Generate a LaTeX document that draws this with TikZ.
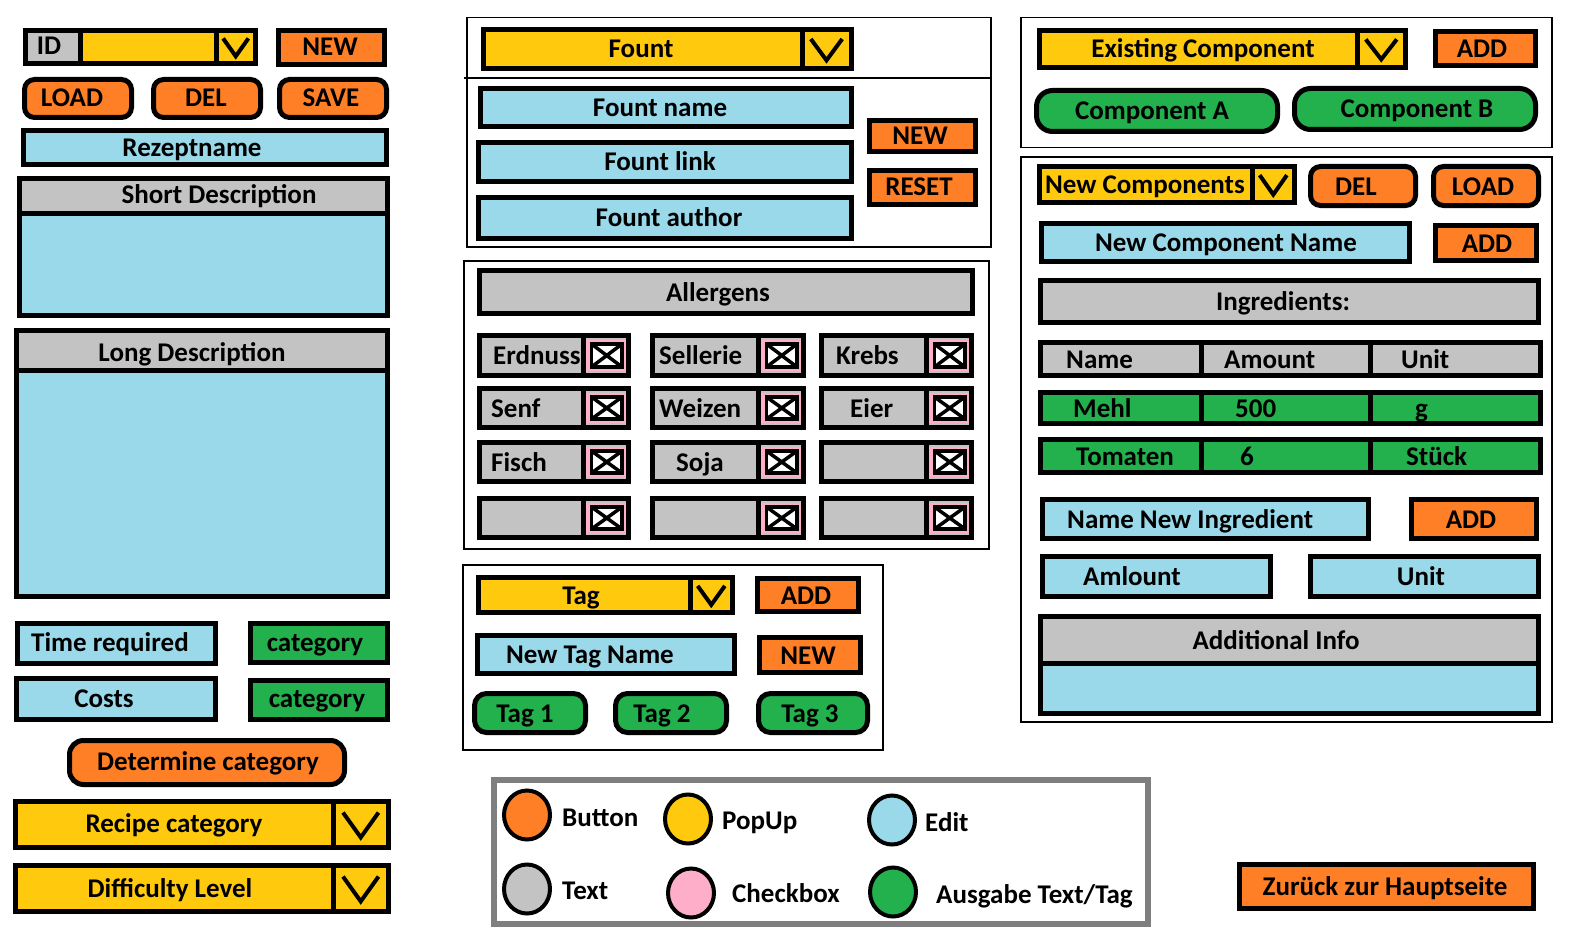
\documentclass[tikz,border=0pt]{standalone}
\usepackage{fontspec}
\setmainfont{Carlito}
\definecolor{uiorange}{HTML}{FF7F27}
\definecolor{uiyellow}{HTML}{FFC90E}
\definecolor{uiblue}{HTML}{99D9EA}
\definecolor{uigray}{HTML}{C3C3C3}
\definecolor{uigreen}{HTML}{22B14C}
\definecolor{uipink}{HTML}{FFAEC9}
\definecolor{uiframe}{HTML}{7F7F7F}
\newcommand\uicombo[5]{%
  \draw[popup] (#1,#2) rectangle (#3,#4);
  \draw[thickbox] (#5,#2) -- (#5,#4);
  \draw[vmark] ({#5+0.18*(#3-#5)},{#2+0.24*(#4-#2)}) -- ({(#5+#3)/2},{#4-0.22*(#4-#2)}) -- ({#3-0.18*(#3-#5)},{#2+0.24*(#4-#2)});}
\newcommand\uicheck[4]{%
  \draw[txt] (#1,#2) rectangle (#3,#4);
  \draw[thickbox] ({#3-45},#2) -- ({#3-45},#4);
  \fill[uipink] ({#3-42.5},{#2+4.5}) rectangle ({#3-2.5},{#4-4.5});
  \draw[line width=3.5pt,fill=white] ({#3-37},{#2+8.5}) rectangle ({#3-6.5},{#4-8.5});
  \draw[line width=3.5pt] ({#3-37},{#2+8.5}) -- ({#3-6.5},{#4-8.5}) ({#3-37},{#4-8.5}) -- ({#3-6.5},{#2+8.5});}
\begin{document}
\begin{tikzpicture}[x=1pt,y=-1pt,
  thickbox/.style={draw=black,line width=5pt},
  btnsq/.style={thickbox,fill=uiorange},
  btnrd/.style={thickbox,fill=uiorange,rounded corners=10pt},
  popup/.style={thickbox,fill=uiyellow},
  edit/.style={thickbox,fill=uiblue},
  txt/.style={thickbox,fill=uigray},
  outp/.style={thickbox,fill=uigreen},
  outrd/.style={thickbox,fill=uigreen,rounded corners=12pt},
  panel/.style={draw=black,line width=1.5pt},
  vmark/.style={draw=black,line width=4pt},
  legdot/.style={draw=black,line width=4pt},
  lbl/.style={font=\bfseries\fontsize{27}{31}\selectfont,inner sep=0pt,text=black,anchor=base},
  lblw/.style={lbl,anchor=base west},
]
\useasboundingbox[fill=white] (0,0) rectangle (1578,944);

% ---------------- left column
\uicombo{25.5}{30.5}{255.5}{63.5}{216}
\draw[txt] (25.5,30.5) rectangle (80,63.5);
\node[lbl] (tid) at (49,55) {ID};
\draw[btnsq] (278.5,30.5) rectangle (384.5,64.5);
\node[lbl] (tnewa) at (330,56) {NEW};
\draw[btnrd] (24.5,79.5) rectangle (131.5,117.5);
\node[lbl] (tloada) at (72,107) {LOAD};
\draw[btnrd] (153.5,79.5) rectangle (260.5,117.5);
\node[lbl] (tdela) at (206,107) {DEL};
\draw[btnrd] (279.5,79.5) rectangle (386.5,117.5);
\node[lbl] (tsave) at (331,107) {SAVE};
\draw[edit] (23.5,130.5) rectangle (386.5,164.5);
\node[lbl] (trez) at (192,157) {Rezeptname};
\draw[edit] (19.5,178.5) rectangle (387.5,315.5);
\draw[txt] (19.5,178.5) rectangle (387.5,213);
\node[lbl] (tshort) at (219,204) {Short Description};
\draw[edit] (16.5,330.5) rectangle (387.5,596.5);
\draw[txt] (16.5,330.5) rectangle (387.5,370);
\node[lbl] (tlong) at (192,361) {Long Description};
\draw[edit] (17.5,623.5) rectangle (215.5,663.5);
\node[lbl] (ttime) at (110,651) {Time required};
\draw[outp] (250.5,623.5) rectangle (387.5,662.5);
\node[lbl] (tcata) at (315,651) {category};
\draw[edit] (16.5,678.5) rectangle (215.5,719.5);
\node[lbl] (tcost) at (104,707) {Costs};
\draw[outp] (250.5,680.5) rectangle (387.5,719.5);
\node[lbl] (tcatb) at (317,707) {category};
\draw[btnrd,rounded corners=14pt] (69.5,740.5) rectangle (344.5,784.5);
\node[lbl] (tdet) at (208,770) {Determine category};
\uicombo{15.5}{801.5}{388.5}{847.5}{333}
\node[lbl] (trec) at (174,832) {Recipe category};
\uicombo{15.5}{865.5}{388.5}{911.5}{333}
\node[lbl] (tdiff) at (170,897) {Difficulty Level};

% ---------------- middle column
\draw[panel] (467,17.5) rectangle (991,247);
\draw[panel] (464,78) -- (991,78);
\uicombo{483}{29.5}{851}{69}{802}
\node[lbl] (tfount) at (641,58) {Fount};
\draw[edit] (480.5,88.5) rectangle (851,127);
\node[lbl] (tfname) at (660,116.5) {Fount name};
\draw[edit] (478.5,142.5) rectangle (851,182);
\node[lbl] (tflink) at (660,171) {Fount link};
\draw[edit] (478.5,197.5) rectangle (851,238);
\node[lbl] (tfauth) at (669,226.5) {Fount author};
\draw[btnsq] (869.5,120.5) rectangle (975,151.5);
\node[lbl] (tnewb) at (920,144.5) {NEW};
\draw[btnsq] (869.5,170.5) rectangle (975,204.5);
\node[lbl] (treset) at (919,196) {RESET};

\draw[panel] (464,261) rectangle (989,549);
\draw[txt] (479.5,270.5) rectangle (972.5,313.5);
\node[lbl] (tallerg) at (718,301) {Allergens};
\foreach \ya/\yb in {335.5/375.5,388.5/427.5,442.5/481.5,498.5/537.5}{
  \foreach \xa/\xb in {479.5/628.5,652.5/803.5,821.5/971.5}{
    \uicheck{\xa}{\ya}{\xb}{\yb}}}
\node[lblw] (terd) at (493,364.5) {Erdnuss};
\node[lblw] (tsel) at (659,364.5) {Sellerie};
\node[lblw] (tkreb) at (836,364.5) {Krebs};
\node[lblw] (tsenf) at (491,417) {Senf};
\node[lblw] (tweiz) at (659,417) {Weizen};
\node[lblw] (teier) at (850,417) {Eier};
\node[lblw] (tfisch) at (491,471) {Fisch};
\node[lblw] (tsoja) at (676,471) {Soja};

\draw[panel] (463,565) rectangle (883,750);
\uicombo{478.5}{577.5}{732.5}{612.5}{690}
\node[lbl] (ttag) at (581,604) {Tag};
\draw[btnsq] (757.5,578.5) rectangle (858.5,611.5);
\node[lbl] (taddt) at (806,604) {ADD};
\draw[edit] (477.5,635.5) rectangle (734.5,673.5);
\node[lbl] (tntag) at (590,663.5) {New Tag Name};
\draw[btnsq] (759.5,637.5) rectangle (860.5,672.5);
\node[lbl] (tnewc) at (808,664) {NEW};
\draw[outrd] (474.5,693.5) rectangle (585.5,732.5);
\node[lbl] (ttaga) at (525,722) {Tag 1};
\draw[outrd] (615.5,693.5) rectangle (726.5,732.5);
\node[lbl] (ttagb) at (662,722) {Tag 2};
\draw[outrd] (758.5,693.5) rectangle (867.5,732.5);
\node[lbl] (ttagc) at (810,722) {Tag 3};

% ---------------- legend
\draw[draw=uiframe,line width=6pt] (494,780) rectangle (1148,924);
\draw[legdot,fill=uiorange] (527,815) ellipse [x radius=23,y radius=24.5];
\draw[legdot,fill=uiyellow] (688,819) ellipse [x radius=23,y radius=24.5];
\draw[legdot,fill=uiblue] (892,820) ellipse [x radius=23,y radius=24.5];
\draw[legdot,fill=uigray] (527,889) ellipse [x radius=23,y radius=24.5];
\draw[legdot,fill=uipink] (691,893) ellipse [x radius=23,y radius=24.5];
\draw[legdot,fill=uigreen] (893,892) ellipse [x radius=23,y radius=24.5];
\node[lblw] (lbut) at (562,826) {Button};
\node[lblw] (lpop) at (722,829) {PopUp};
\node[lblw] (ledit) at (925,831) {Edit};
\node[lblw] (ltext) at (562,899) {Text};
\node[lblw] (lchk) at (732,902) {Checkbox};
\node[lblw] (lout) at (936,903) {Ausgabe Text/Tag};

% ---------------- right column
\draw[panel] (1021,17.5) rectangle (1552,147.5);
\uicombo{1039.5}{30.5}{1405.5}{67.5}{1357}
\node[lbl] (texist) at (1203,58) {Existing Component};
\draw[btnsq] (1435.5,31.5) rectangle (1535.5,65.5);
\node[lbl] (tadda) at (1482,57.5) {ADD};
\draw[outrd,rounded corners=16pt] (1036.5,90.5) rectangle (1277.5,131.5);
\node[lbl] (tcompa) at (1152,120) {Component A};
\draw[outrd,rounded corners=16pt] (1294.5,88.5) rectangle (1535.5,129.5);
\node[lbl] (tcompb) at (1417,118) {Component B};

\draw[panel] (1021,157) rectangle (1552,722);
\uicombo{1039.5}{166.5}{1294.5}{202.5}{1252}
\node[lbl] (tnewcomp) at (1145,193.5) {New Components};
\draw[btnrd] (1310.5,166.5) rectangle (1415.5,205.5);
\node[lbl] (tdelb) at (1356,195) {DEL};
\draw[btnrd] (1433.5,166.5) rectangle (1538.5,205.5);
\node[lbl] (tloadb) at (1483,195) {LOAD};
\draw[edit] (1041.5,223.5) rectangle (1409.5,261.5);
\node[lbl] (tncn) at (1226,251.5) {New Component Name};
\draw[btnsq] (1435.5,225.5) rectangle (1536.5,260.5);
\node[lbl] (taddb) at (1487,252) {ADD};
\draw[txt] (1040.5,280.5) rectangle (1538.5,322.5);
\node[lbl] (tingr) at (1283,310.5) {Ingredients:};

\draw[txt] (1040.5,342.5) rectangle (1540.5,375.5);
\draw[thickbox] (1201,342.5) -- (1201,375.5) (1370,342.5) -- (1370,375.5);
\node[lblw] (hname) at (1066,368) {Name};
\node[lblw] (hamount) at (1224,368) {Amount};
\node[lblw] (hunit) at (1401,368) {Unit};
\draw[outp] (1040.5,392.5) rectangle (1540.5,423.5);
\draw[thickbox] (1201,392.5) -- (1201,423.5) (1370,392.5) -- (1370,423.5);
\node[lblw] (rmehl) at (1073,417) {Mehl};
\node[lblw] (rfive) at (1235,417) {500};
\node[lblw] (rg) at (1415,417) {g};
\draw[outp] (1040.5,439.5) rectangle (1540.5,472.5);
\draw[thickbox] (1201,439.5) -- (1201,472.5) (1370,439.5) -- (1370,472.5);
\node[lblw] (rtom) at (1076,465) {Tomaten};
\node[lblw] (rsix) at (1240,465) {6};
\node[lblw] (rst) at (1406,465) {Stück};

\draw[edit] (1042.5,499.5) rectangle (1368.5,538.5);
\node[lblw] (tnni) at (1067,528) {Name New Ingredient};
\draw[btnsq] (1411.5,499.5) rectangle (1536.5,538.5);
\node[lbl] (taddc) at (1471,528) {ADD};
\draw[edit] (1042.5,556.5) rectangle (1270.5,596.5);
\node[lblw] (tamt) at (1083,585.5) {Amlount};
\draw[edit] (1310.5,556.5) rectangle (1538.5,596.5);
\node[lbl] (tunit) at (1421,585.5) {Unit};
\draw[edit] (1040.5,616.5) rectangle (1538.5,713.5);
\draw[txt] (1040.5,616.5) rectangle (1538.5,663);
\node[lbl] (tinfo) at (1276,649) {Additional Info};

\draw[btnsq] (1239.5,864.5) rectangle (1533.5,908.5);
\node[lbl] (tback) at (1385,895.5) {Zurück zur Hauptseite};
\end{tikzpicture}
\end{document}
